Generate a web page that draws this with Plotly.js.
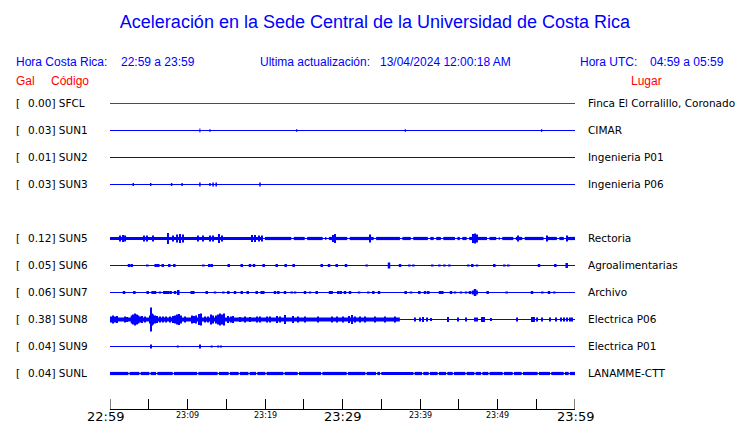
<!DOCTYPE html>
<html><head><meta charset="utf-8">
<script src="https://cdn.plot.ly/plotly-3.0.1.min.js"></script>
<style>html,body{margin:0;padding:0;background:#fff}#chart{width:740px;height:423px}</style>
</head><body><div id="chart"></div>
<script>
// ---- data ----
const codes = ['SFCL','SUN1','SUN2','SUN3','SUN4','SUN5','SUN6','SUN7','SUN8','SUN9','SUNL'];
const galValues = ['0.00','0.03','0.01','0.03',null,'0.12','0.05','0.06','0.38','0.04','0.04'];
const places = ['Finca El Corralillo, Coronado','CIMAR','Ingenieria P01','Ingenieria P06','','Rectoria','Agroalimentarias','Archivo','Electrica P06','Electrica P01','LANAMME-CTT'];
const tickMinutes = [0,10,20,30,40,50,60];
const tickLabels = ['22:59','23:09','23:19','23:29','23:39','23:49','23:59'];

// spike times (minutes after 22:59) and half-amplitudes
const sun1Times = [11.6, 12.9, 24.1, 38.1, 55.7];
const sun1Amps  = [2, 1.5, 1.5, 1.5, 1.5];
const sun3Times = [3.0, 5.25, 7.95, 9.3, 11.6, 12.9, 13.3, 13.7, 19.35];
const sun3Amps  = [1.5, 1.5, 1.5, 1.5, 2, 1.5, 2, 2, 2];
const sun5Times = [1.29,1.68,1.94,4.39,4.77,5.55,7.48,8.13,8.65,9.03,9.42,11.35,12.0,12.9,13.29,14.06,14.45,18.32,18.71,19.23,19.61,28.77,29.03,33.55,46.84,47.1,47.35,52.65,56.39,58.97];
const sun5Amps  = [3,3.5,3,3,3,3,5.5,3,4,4.5,4,3,3,3,3,4.5,3,3.5,3.5,3,3,3.5,4.5,4,4.5,5,4,3,3,3];
const sun5Gaps  = [19.83,23.55,25.28,27.6,28.08,30.77,34.18,37.57,38.97,41.17,41.93,42.85,44.67,45.3,46.18,48.8,50.0,50.45,52.2,52.45,53.35,56.1,57.82,58.72];
const sun6Times = [2.45,2.8,4.81,5.9,6.23,6.8,7.65,8.3,12.04,12.81,13.12,15.32,17.0,18.06,18.58,19.83,21.51,22.67,23.7,27.32,28.26,29.25,30.45,33.12,36.0,37.42,38.62,39.14,41.59,42.5,43.14,43.78,46.23,46.75,47.35,49.59,50.88,51.39,55.35,57.46,58.93];
const sun6Amps  = [1.5,1.5,1,1.5,1.5,1.5,1.5,1.5,1,1.5,1.5,1.5,1.5,1.5,1.5,1.5,1.5,1.5,1.5,1.5,1.5,1.5,1.5,1,3,1.5,1,1,1,1,1,1,1,1.5,1,1.5,1,1,1.5,1.5,2.5];
const sun7Times = [1.81,3.14,4.86,5.5,5.81,6.45,7.0,7.26,7.52,7.83,8.39,8.81,10.54,10.75,12.48,13.55,14.62,15.27,16.13,17.0,17.77,18.93,19.57,19.78,21.29,21.72,22.58,23.44,23.87,25.16,25.81,26.67,28.39,28.6,29.46,29.77,30.32,30.97,32.13,33.33,33.98,34.71,38.15,38.84,39.91,40.65,41.07,42.58,42.88,44.0,44.52,45.29,45.94,46.45,46.84,47.1,47.31,48.73,51.18,54.45,55.78,56.65,57.33];
const sun7Amps  = [1.5,1.5,1.5,1.5,1.5,1,1.5,1.5,1.5,1.5,1.5,2.5,1.5,1.5,1.5,1,1,1.5,1.5,1.5,1.5,1.5,1.5,1.5,1.5,1.5,1.5,1,1,1.5,1,1.5,1.5,1.5,1.5,1.5,1.5,1.5,1,1,1.5,1.5,1.5,1,1.5,1.5,1.5,1.5,1.5,1.5,1,1,1,1.5,2,3.5,2,1.5,1,1.5,1,1.5,1];
const sun8Times = [0.13,0.39,0.65,0.90,1.94,2.19,2.80,2.97,3.23,3.48,3.65,3.87,4.13,4.52,5.16,5.29,5.42,5.55,5.81,6.06,6.45,6.84,7.23,7.74,8.13,8.39,8.65,8.90,9.16,9.68,10.58,10.84,11.10,11.48,11.74,12.26,12.65,13.03,13.29,13.68,13.94,14.19,14.45,14.71,15.23,15.61,15.87,16.77,17.42,18.06,18.97,19.35,20.26,20.65,21.55,21.94,22.58,23.61,24.26,25.16,26.84,28.65,29.29,30.06,30.84,31.23,31.61,32.26,32.90,34.19,35.48,36.77,39.35,40.00,40.39,40.90,41.42,43.61,44.90,45.94,47.10,47.35,48.00,48.26,49.16,52.52,54.45,54.71,55.10,55.74,56.77,57.55,58.19,58.58,58.97,59.35,59.61];
const sun8Amps  = [3,4,3,3.5,3,2.5,4,5,6,5,4,3,3.5,3,4,12,6,5,4,3.5,3,3,3,3,3.5,4,5,5.5,4,3,4,3.5,4,5.5,6,3,3,5,4,4,5,6,5,6,3.5,3,3.5,2.5,3,2.5,3,3,3,3,3.5,3,4.5,3.5,3,3,3,3,3,3,3.5,4.5,3,3,3,3,3,3,2,2,2.5,2,1.5,2.5,2,2,2,2,2.5,2.5,1.5,2,2.5,2.5,2,2,2,2,2,2,2,2,2];
const sun8BandEnd = 37.4;
const sun9Times = [5.29, 8.74, 11.61, 13.12, 13.97, 14.32];
const sun9Amps  = [2, 1, 2, 1, 1, 1];
const sunLGaps  = [2.45,3.87,5.16,6.03,8.17,11.32,13.97,15.39,16.68,17.94,18.93,20.13,22.45,24.3,27.32,30.62,33.03,34.41,34.93,39.23,40.35,41.2,42.36,43.45,44.3,45.94,47.1,47.96,48.9,50.75,52.04,53.2,55.26,56.86,58.62,59.26];

// ---- rendering ----
const BLUE = '#0000ff', RED = '#ff0000';
const ROW0 = 13.5, ROWSTEP = 27;
const stations = {
  SFCL: {color: RED},
  SUN1: {times: sun1Times, amps: sun1Amps, bw: 1},
  SUN2: {},
  SUN3: {times: sun3Times, amps: sun3Amps, bw: 1.5},
  SUN5: {times: sun5Times, amps: sun5Amps, bw: 2, band: 1.6, bandEnd: 60, gaps: sun5Gaps, gapHalf: 0.16},
  SUN6: {times: sun6Times, amps: sun6Amps, bw: 2.5},
  SUN7: {times: sun7Times, amps: sun7Amps, bw: 2.5},
  SUN8: {times: sun8Times, amps: sun8Amps, bw: 2, band: 2, bandEnd: sun8BandEnd, gaps: [], gapHalf: 0},
  SUN9: {times: sun9Times, amps: sun9Amps, bw: 2},
  SUNL: {band: 1.6, bandEnd: 60, gaps: sunLGaps, gapHalf: 0.08}
};

const traces = [];
codes.forEach((code, i) => {
  if (galValues[i] === null) return;
  const c = ROW0 + ROWSTEP * i;
  const s = stations[code] || {};
  const color = s.color || BLUE;
  traces.push({x: [0, 60], y: [c, c], mode: 'lines', line: {color, width: 1}, hoverinfo: 'skip'});
  if (s.band) {
    const xs = [], ys = [];
    let start = 0;
    s.gaps.forEach(g => {
      if (g - s.gapHalf > start && g < s.bandEnd) {
        xs.push(start, g - s.gapHalf, null); ys.push(c, c, null);
        start = g + s.gapHalf;
      }
    });
    xs.push(start, s.bandEnd); ys.push(c, c);
    traces.push({x: xs, y: ys, mode: 'lines', line: {color, width: s.band * 2}, hoverinfo: 'skip'});
  }
  if (s.times) {
    const xs = [], ys = [];
    s.times.forEach((t, k) => { xs.push(t, t, null); ys.push(c - s.amps[k], c + s.amps[k], null); });
    traces.push({x: xs, y: ys, mode: 'lines', line: {color, width: s.bw}, hoverinfo: 'skip'});
  }
});

const ML = 110, MT = 90, PW = 465, PH = 319;
const px = v => (v - ML) / PW;
const py = v => (MT + PH - v) / PH;
const HF = 'Liberation Sans, Arial, sans-serif';
const DF = 'DejaVu Sans, sans-serif';
const ann = (x, y, text, color, size, family, anchor) => ({
  xref: 'paper', yref: 'paper', x: px(x), y: py(y), text, showarrow: false,
  xanchor: anchor || 'left', yanchor: 'middle', borderpad: 0,
  font: {family, size, color}
});

const annotations = [
  ann(15, 61.5, 'Hora Costa Rica:', BLUE, 12, HF),
  ann(120, 61.5, '22:59 a 23:59', BLUE, 12, HF),
  ann(259, 61.5, 'Ultima actualización:', BLUE, 12, HF),
  ann(379, 61.5, '13/04/2024 12:00:18 AM', BLUE, 12, HF),
  ann(579, 61.5, 'Hora UTC:', BLUE, 12, HF),
  ann(649, 61.5, '04:59 a 05:59', BLUE, 12, HF),
  ann(15, 80.5, 'Gal', RED, 12, HF),
  ann(50, 80.5, 'Código', RED, 12, HF),
  ann(630, 80.5, 'Lugar', RED, 12, HF)
];
codes.forEach((code, i) => {
  if (galValues[i] === null) return;
  const yc = MT + ROW0 + ROWSTEP * i - 0.5;
  annotations.push(ann(14.5, yc, '[', '#000', 10.5, DF));
  annotations.push(ann(26.5, yc, galValues[i] + '] ' + code, '#000', 10.5, DF));
  annotations.push(ann(586.5, yc, places[i], '#000', 10.5, DF));
});
tickMinutes.forEach((m, k) => {
  const big = (m % 30 === 0);
  annotations.push({
    xref: 'x', yref: 'paper', x: m, y: py(big ? 416.5 : 415), text: tickLabels[k], showarrow: false,
    xanchor: 'center', yanchor: 'middle', borderpad: 0, xshift: m === 0 ? -5 : 0,
    font: {family: DF, size: big ? 13 : 8, color: '#000'}
  });
});

// edge ticks (Plotly may skip ticks on the plot border)
const shapes = [0, 60].map(m => ({type: 'line', xref: 'x', yref: 'paper', x0: m, x1: m, y0: 0, y1: 10 / PH,
  line: {color: '#000', width: 1}}));

const layout = {
  width: 740, height: 423,
  margin: {l: ML, r: 740 - ML - PW, t: MT, b: 423 - MT - PH, pad: 0},
  paper_bgcolor: '#fff', plot_bgcolor: '#fff',
  showlegend: false,
  title: {text: 'Aceleración en la Sede Central de la Universidad de Costa Rica',
          font: {family: HF, size: 18, color: BLUE},
          xref: 'paper', x: px(375), xanchor: 'center', yref: 'container', y: 1 - 22 / 423, yanchor: 'middle'},
  xaxis: {range: [0, 60], showgrid: false, zeroline: false, showline: true, linecolor: '#000', linewidth: 1,
          ticks: 'inside', ticklen: 10, tickcolor: '#000', tickwidth: 1, tickvals: [0,5,10,15,20,25,30,35,40,45,50,55,60],
          showticklabels: false, fixedrange: true},
  yaxis: {range: [PH, 0], visible: false, fixedrange: true},
  shapes,
  annotations
};
Plotly.newPlot('chart', traces, layout, {staticPlot: true, displayModeBar: false});
</script>
</body></html>
